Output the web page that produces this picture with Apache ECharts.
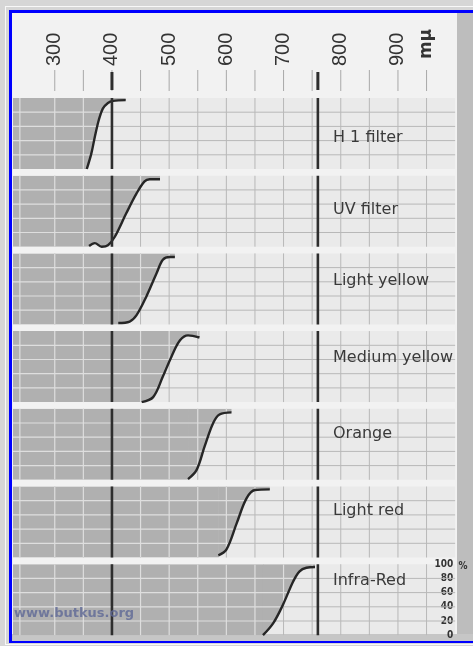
<!DOCTYPE html>
<html>
<head>
<meta charset="utf-8">
<script src="https://cdn.jsdelivr.net/npm/echarts@6/dist/echarts.min.js"></script>
<style>
  html, body { margin: 0; padding: 0; background: #d6d6d6; overflow: hidden; }
  .outer { position: absolute; left: 5px; top: 6px; width: 480px; height: 637px; border: 1px solid #f8f8f8; border-right: none; }
  .paper { position: absolute; left: 9px; top: 10px; width: 480px; height: 633px; box-sizing: border-box;
           border: 3px solid #0000ff; border-right: none; background: #f2f2f2; }
  #main { position: absolute; left: 0; top: 0; width: 473px; height: 646px; }
</style>
</head>
<body>
<div class="outer"></div>
<div class="paper"></div>
<div id="main"></div>
<script>
// wavelength range of the panels (mμ)
var waveMin = 227, waveMax = 1000;

var filterNames = ['H 1 filter', 'UV filter', 'Light yellow', 'Medium yellow', 'Orange', 'Light red', 'Infra-Red'];

// transmission curves [wavelength, %]
var h1Curve = [[356, 0], [364, 22], [370, 45], [377, 69], [384, 85], [393, 93], [402, 96], [424, 97]];
var uvCurve = [[360, 1], [370, 5], [382, 0], [393, 2], [405, 14], [425, 47], [443, 75], [457, 92], [466, 95], [484, 95]];
var lightYellowCurve = [[411, 2], [431, 4], [443, 13], [460, 39], [478, 72], [489, 91], [501, 95], [510, 95]];
var mediumYellowCurve = [[452, 0], [472, 7], [489, 36], [504, 64], [519, 87], [533, 94], [553, 91]];
var orangeCurve = [[533, 1], [548, 14], [562, 47], [577, 80], [588, 92], [609, 95]];
var lightRedCurve = [[586, 3], [600, 11], [618, 48], [635, 83], [650, 95], [676, 96]];
var infraRedCurve = [[664, 0], [682, 17], [699, 43], [717, 76], [728, 90], [740, 95], [755, 96]];
var curves = [h1Curve, uvCurve, lightYellowCurve, mediumYellowCurve, orangeCurve, lightRedCurve, infraRedCurve];

var gridWaves = [300, 350, 400, 450, 500, 550, 600, 650, 700, 750, 800, 850, 900, 950];
var edgeWave = 239;
var markWaves = [400, 760];
var scaleLabels = [300, 400, 500, 600, 700, 800, 900];
var levelLines = [20, 40, 60, 80];
var percentLabels = [0, 20, 40, 60, 80, 100];

// layout
var pxPerWave = 0.572;
var panelLeft = 13, panelTop0 = 98, panelStep = 77.7, panelHeight = 71;
var panelWidth = (waveMax - waveMin) * pxPerWave;
var labelOffsets = [40, 34, 27, 27, 25, 24, 17];

function valueAt(curve, w) {
  if (w <= curve[0][0]) return 0;
  for (var i = 1; i < curve.length; i++) {
    if (w <= curve[i][0]) {
      var a = curve[i - 1], b = curve[i];
      return a[1] + (b[1] - a[1]) * (w - a[0]) / (b[0] - a[0]);
    }
  }
  return curve[curve.length - 1][1];
}
function waveAt(curve, level) {
  for (var i = 1; i < curve.length; i++) {
    var a = curve[i - 1], b = curve[i];
    if (a[1] <= level && b[1] >= level) {
      return a[0] + (b[0] - a[0]) * (level - a[1]) / (b[1] - a[1]);
    }
  }
  return curve[curve.length - 1][0];
}

var chart = echarts.init(document.getElementById('main'));

var grids = [], xAxes = [], yAxes = [], series = [], graphics = [];
var lineBase = { type: 'line', symbol: 'none', silent: true, animation: false };
var shade = '#b0b0b0';

curves.forEach(function (curve, i) {
  var top = panelTop0 + i * panelStep;
  grids.push({ left: panelLeft, top: top, width: panelWidth, height: panelHeight,
    show: true, backgroundColor: '#eaeaea', borderWidth: 0 });
  xAxes.push({ gridIndex: i, type: 'value', min: waveMin, max: waveMax, show: false });
  var last = i === curves.length - 1;
  yAxes.push({
    gridIndex: i, type: 'value', min: 0, max: 100, interval: 20, show: last, position: 'right',
    axisLine: { show: false }, axisTick: { show: false }, splitLine: { show: false },
    axisLabel: { inside: true, margin: 2, fontSize: 10, fontWeight: 'bold',
      fontFamily: 'DejaVu Sans Condensed', color: '#333',
      formatter: function (v) { return percentLabels.indexOf(v) >= 0 ? v : ''; } }
  });
  var on = { xAxisIndex: i, yAxisIndex: i };

  // grey grid under the filter shading
  var greyLines = [];
  levelLines.forEach(function (l) { greyLines.push([waveMin, l], [waveMax, l], [waveMax, '-']); });
  gridWaves.forEach(function (w) { greyLines.push([w, 0], [w, 100], [w, '-']); });
  series.push(Object.assign({}, lineBase, on, { z: 1, data: greyLines,
    lineStyle: { color: '#b8b8b8', width: 1 } }));

  // absorbed region: fully shaded up to the start of the curve, then above the curve
  var start = curve[0][0];
  series.push(Object.assign({}, lineBase, on, { z: 2,
    data: [[waveMin, 0], [start + 0.8, 0]],
    lineStyle: { width: 0, opacity: 0 },
    areaStyle: { origin: 'end', color: shade, opacity: 1 } }));
  series.push(Object.assign({}, lineBase, on, { z: 2, smooth: 0.35,
    data: curve,
    lineStyle: { width: 0, opacity: 0 },
    areaStyle: { origin: 'end', color: shade, opacity: 1 } }));

  // pale grid on top of the shading
  var whiteLines = [[edgeWave, 0], [edgeWave, 100], [edgeWave, '-']];
  levelLines.forEach(function (l) {
    var x = waveAt(curve, l);
    whiteLines.push([waveMin, l], [x, l], [x, '-']);
  });
  gridWaves.forEach(function (w) {
    if (w >= curve[curve.length - 1][0]) return;
    var v = valueAt(curve, w);
    if (v < 97) whiteLines.push([w, v], [w, 100], [w, '-']);
  });
  series.push(Object.assign({}, lineBase, on, { z: 3, data: whiteLines,
    lineStyle: { color: '#dedede', width: 1.2 } }));

  // transmission curve
  series.push(Object.assign({}, lineBase, on, { z: 4, smooth: 0.35,
    data: curve, lineStyle: { color: '#262626', width: 2.4 } }));

  // heavy reference lines
  var heavy = [];
  markWaves.forEach(function (w) { heavy.push([w, 0], [w, 100], [w, '-']); });
  series.push(Object.assign({}, lineBase, on, { z: 5, data: heavy,
    lineStyle: { color: '#2e2e2e', width: 2.6 } }));

  graphics.push({ type: 'text', x: 333, y: top + labelOffsets[i], z: 100, silent: true,
    style: { text: filterNames[i], fontSize: 16, fontFamily: 'DejaVu Sans', fill: '#3a3a3a',
      textVerticalAlign: 'middle' } });
});

// header scale
var h = curves.length;
grids.push({ left: panelLeft + (250 - waveMin) * pxPerWave, top: 70, width: (waveMax - 250) * pxPerWave, height: 21 });
xAxes.push({ gridIndex: h, type: 'value', min: 250, max: waveMax, interval: 50, position: 'top',
  axisLine: { show: false }, axisTick: { show: false }, splitLine: { show: false },
  axisLabel: { rotate: 90, margin: 4, fontSize: 20, fontFamily: 'Liberation Sans', color: '#333',
    formatter: function (v) { return scaleLabels.indexOf(v) >= 0 ? v : ''; } } });
yAxes.push({ gridIndex: h, type: 'value', min: 0, max: 1, show: false });
var thinTicks = [];
gridWaves.forEach(function (w) { thinTicks.push([w, 0], [w, 1], [w, '-']); });
series.push(Object.assign({}, lineBase, { xAxisIndex: h, yAxisIndex: h, data: thinTicks,
  lineStyle: { color: '#a8a8a8', width: 1 } }));
var thickTicks = [];
markWaves.forEach(function (w) { thickTicks.push([w, 0.05], [w, 0.9], [w, '-']); });
series.push(Object.assign({}, lineBase, { xAxisIndex: h, yAxisIndex: h, data: thickTicks,
  lineStyle: { color: '#2e2e2e', width: 3 } }));

// scan edges and extra text
graphics.push(
  { type: 'rect', shape: { x: 457, y: 13, width: 16, height: 628 }, style: { fill: '#bdbdbd' }, silent: true },
  { type: 'rect', shape: { x: 12, y: 634, width: 461, height: 7 }, style: { fill: '#c6c6c6' }, silent: true },
  { type: 'text', x: 427, y: 44, rotation: Math.PI / 2, z: 100, silent: true,
    style: { text: 'mμ', fontSize: 17, fontWeight: 'bold', fontFamily: 'DejaVu Sans', fill: '#333',
      textAlign: 'center', textVerticalAlign: 'middle' } },
  { type: 'text', x: 463, y: 566, z: 100, silent: true,
    style: { text: '%', fontSize: 10, fontWeight: 'bold', fontFamily: 'DejaVu Sans Condensed', fill: '#333',
      textAlign: 'center', textVerticalAlign: 'middle' } },
  { type: 'text', x: 14, y: 614, z: 100, silent: true,
    style: { text: 'www.butkus.org', fontSize: 13, fontWeight: 'bold', fontFamily: 'DejaVu Sans',
      fill: 'rgba(95,105,150,0.8)', textVerticalAlign: 'middle' } }
);

chart.setOption({
  backgroundColor: 'transparent',
  animation: false,
  grid: grids,
  xAxis: xAxes,
  yAxis: yAxes,
  series: series,
  graphic: graphics
});
</script>
</body>
</html>
